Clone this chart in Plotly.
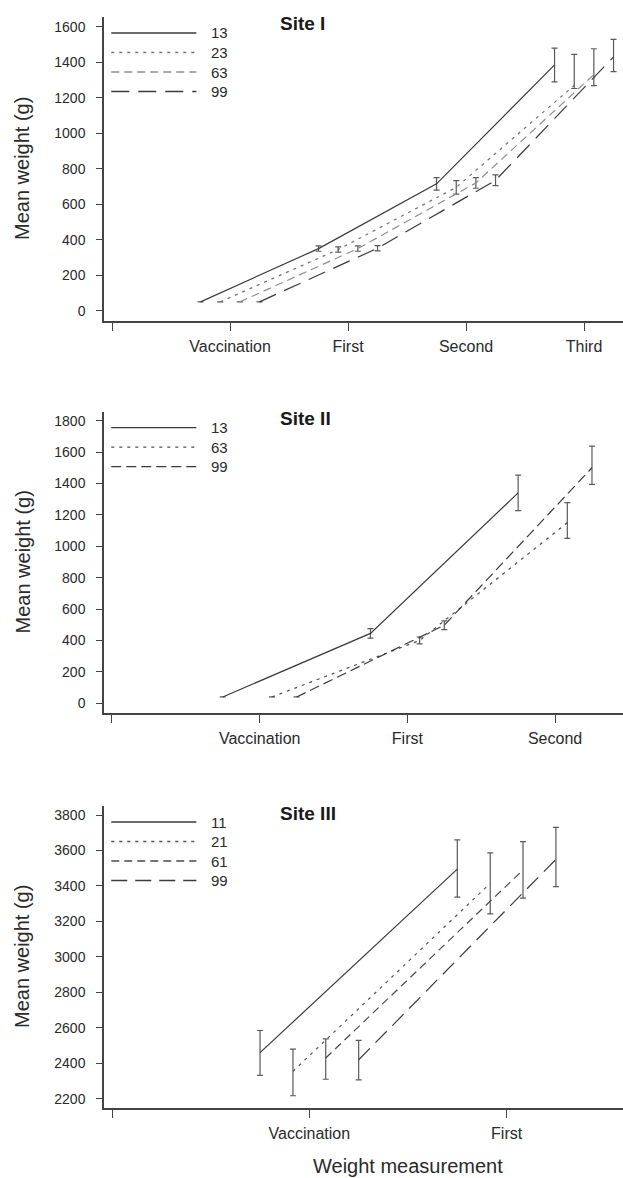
import plotly.graph_objects as go

# ---------------- data ----------------
# Site I
site1_measurements = ["Vaccination", "First", "Second", "Third"]
site1_groups = ["13", "23", "63", "99"]
site1_13 = [50, 350, 715, 1385]
site1_23 = [50, 345, 695, 1270]
site1_63 = [50, 350, 720, 1330]
site1_99 = [50, 352, 735, 1430]
site1_13_hi = [0, 15, 35, 95]
site1_13_lo = [0, 15, 35, 95]
site1_23_hi = [0, 15, 38, 174]
site1_23_lo = [0, 15, 38, 18]
site1_63_hi = [0, 15, 30, 146]
site1_63_lo = [0, 15, 30, 62]
site1_99_hi = [0, 15, 30, 99]
site1_99_lo = [0, 15, 30, 83]

# Site II
site2_measurements = ["Vaccination", "First", "Second"]
site2_groups = ["13", "63", "99"]
site2_13 = [40, 445, 1340]
site2_63 = [40, 400, 1150]
site2_99 = [40, 497, 1500]
site2_13_hi = [0, 30, 113]
site2_13_lo = [0, 30, 113]
site2_63_hi = [0, 22, 128]
site2_63_lo = [0, 22, 100]
site2_99_hi = [0, 28, 138]
site2_99_lo = [0, 28, 106]

# Site III
site3_measurements = ["Vaccination", "First"]
site3_groups = ["11", "21", "61", "99"]
site3_11 = [2460, 3495]
site3_21 = [2355, 3415]
site3_61 = [2430, 3490]
site3_99 = [2420, 3550]
site3_11_hi = [125, 165]
site3_11_lo = [128, 158]
site3_21_hi = [125, 172]
site3_21_lo = [138, 172]
site3_61_hi = [108, 160]
site3_61_lo = [120, 159]
site3_99_hi = [109, 181]
site3_99_lo = [113, 154]

site_titles = ["Site I", "Site II", "Site III"]
y_title = "Mean weight (g)"
x_title = "Weight measurement"

# ---------------- styling ----------------
FONT = "Liberation Sans, Arial, Helvetica, sans-serif"
W, H = 623, 1178
ML, MR, MT, MB = 104, 0, 17, 70
PLOT_H = H - MT - MB
PLOT_W = W - ML - MR

# pixel extents (top, bottom) of each panel
panel_px = [(17, 321), (411.7, 713.3), (806, 1108)]
y_ranges = [[-58, 1655], [-64, 1857], [2148, 3851]]
y_ticks = [list(range(0, 1601, 200)), list(range(0, 1801, 200)), list(range(2200, 3801, 200))]
x_ranges = [[-0.068, 4.33], [-0.054, 3.46], [-0.041, 2.59]]

dodge = [-0.25, -0.083, 0.083, 0.25]

panels = [
    dict(meas=site1_measurements, groups=site1_groups,
         series=[site1_13, site1_23, site1_63, site1_99],
         hi=[site1_13_hi, site1_23_hi, site1_63_hi, site1_99_hi],
         lo=[site1_13_lo, site1_23_lo, site1_63_lo, site1_99_lo],
         slots=[0, 1, 2, 3],
         dash=["solid", "3px,5px", "8px,5px", "18px,9px"],
         color=["#3a3a3a", "#707070", "#8e8e8e", "#3a3a3a"]),
    dict(meas=site2_measurements, groups=site2_groups,
         series=[site2_13, site2_63, site2_99],
         hi=[site2_13_hi, site2_63_hi, site2_99_hi],
         lo=[site2_13_lo, site2_63_lo, site2_99_lo],
         slots=[0, 2, 3],
         dash=["solid", "3px,5px", "10px,5px"],
         color=["#3a3a3a", "#4a4a4a", "#3a3a3a"]),
    dict(meas=site3_measurements, groups=site3_groups,
         series=[site3_11, site3_21, site3_61, site3_99],
         hi=[site3_11_hi, site3_21_hi, site3_61_hi, site3_99_hi],
         lo=[site3_11_lo, site3_21_lo, site3_61_lo, site3_99_lo],
         slots=[0, 1, 2, 3],
         dash=["solid", "3px,5px", "8px,5px", "16px,8px"],
         color=["#3a3a3a", "#555555", "#4a4a4a", "#3a3a3a"]),
]

fig = go.Figure()
shapes = []
annotations = []

for p, panel in enumerate(panels):
    ax = "" if p == 0 else str(p + 1)
    xref, yref = "x" + ax, "y" + ax
    for s, vals in enumerate(panel["series"]):
        xs = [i + 1 + dodge[panel["slots"][s]] for i in range(len(vals))]
        fig.add_trace(go.Scatter(
            x=xs, y=vals, mode="lines", name=panel["groups"][s], showlegend=False,
            xaxis=xref, yaxis=yref,
            line=dict(color=panel["color"][s], width=1.2, dash=panel["dash"][s]),
            error_y=dict(type="data", symmetric=False, array=panel["hi"][s],
                         arrayminus=panel["lo"][s], color="#5a5a5a",
                         thickness=1.2, width=3),
        ))

    top, bot = panel_px[p]
    dom = [(MT + PLOT_H - bot) / PLOT_H, (MT + PLOT_H - top) / PLOT_H]
    hpx = bot - top
    n = len(panel["meas"])
    fig.layout["xaxis" + ax] = dict(
        domain=[0, 1], anchor=yref, range=x_ranges[p],
        tickmode="array", tickvals=list(range(0, n + 1)),
        ticktext=[""] + panel["meas"],
        ticks="outside", ticklen=8, tickwidth=1.2, tickcolor="#444",
        showline=True, linecolor="#444", linewidth=1.5,
        showgrid=False, zeroline=False, ticklabelstandoff=2,
        tickfont=dict(family=FONT, size=16, color="#2a2a2a"),
    )
    fig.layout["yaxis" + ax] = dict(
        domain=dom, anchor=xref, range=y_ranges[p],
        tickmode="array", tickvals=y_ticks[p],
        ticks="outside", ticklen=6, tickwidth=1.2, tickcolor="#444",
        showline=True, linecolor="#444", linewidth=1.5,
        showgrid=False, zeroline=False, ticklabelstandoff=8,
        tickfont=dict(family=FONT, size=14, color="#2a2a2a"),
    )

    # manual legend
    for s, g in enumerate(panel["groups"]):
        yy = 1 - (16 + 19.5 * s) / hpx
        shapes.append(dict(type="line", xref=xref + " domain", yref=yref + " domain",
                           x0=0.014, x1=0.178, y0=yy, y1=yy,
                           line=dict(color=panel["color"][s], width=1.3, dash=panel["dash"][s])))
        annotations.append(dict(xref=xref + " domain", yref=yref + " domain",
                                x=0.202, y=yy, xanchor="left", yanchor="middle",
                                text=g, showarrow=False,
                                font=dict(family=FONT, size=15, color="#2a2a2a")))
    # site title
    annotations.append(dict(xref=xref + " domain", yref=yref + " domain",
                            x=0.335, y=1 - 7 / hpx, xanchor="left", yanchor="middle",
                            text="<b>" + site_titles[p] + "</b>", showarrow=False,
                            font=dict(family=FONT, size=19, color="#1a1a1a")))
    # y title
    annotations.append(dict(xref="paper", yref=yref + " domain",
                            x=(22 - ML) / PLOT_W, y=0.5, xanchor="center", yanchor="middle",
                            text=y_title, textangle=-90, showarrow=False,
                            font=dict(family=FONT, size=20, color="#2a2a2a")))

annotations.append(dict(xref="paper", yref="paper",
                        x=(408 - ML) / PLOT_W, y=(MT + PLOT_H - 1166) / PLOT_H,
                        xanchor="center", yanchor="middle", text=x_title, showarrow=False,
                        font=dict(family=FONT, size=20, color="#2a2a2a")))

fig.update_layout(
    width=W, height=H,
    margin=dict(l=ML, r=MR, t=MT, b=MB),
    paper_bgcolor="white", plot_bgcolor="white",
    showlegend=False,
    shapes=shapes, annotations=annotations,
    font=dict(family=FONT),
)

fig.write_html("out.html",
               config={"displayModeBar": False},
               post_script="document.body.style.margin='0';document.body.style.overflow='hidden';")
